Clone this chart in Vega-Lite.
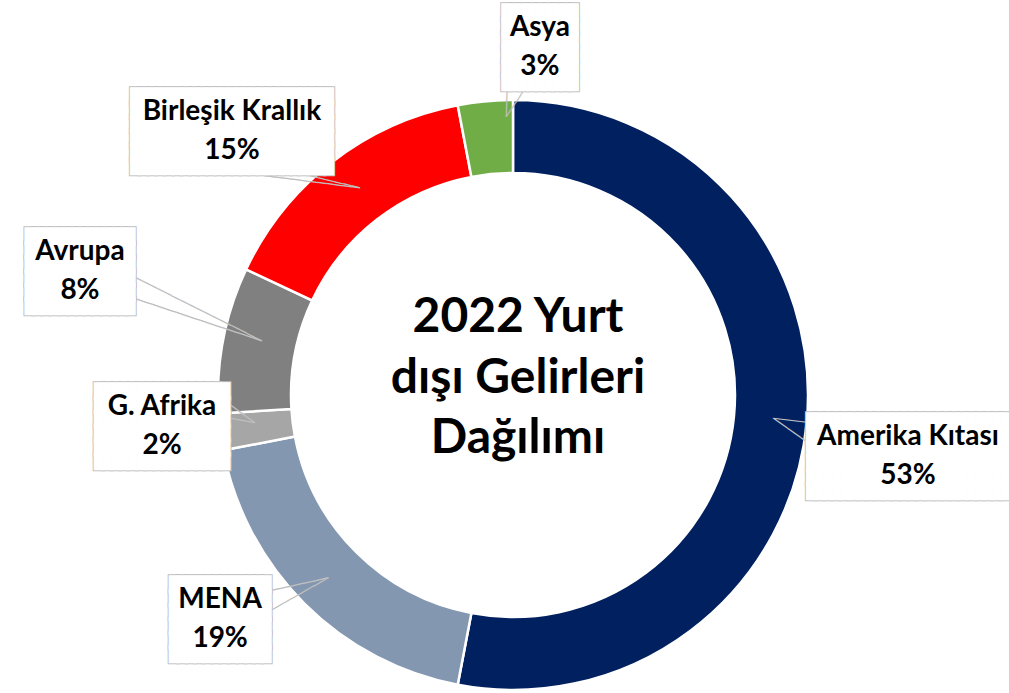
{
  "$schema": "https://vega.github.io/schema/vega-lite/v6.json",
  "width": 992,
  "height": 596,
  "autosize": "none",
  "padding": {"left": 17, "top": 97, "right": 0, "bottom": 0},
  "background": "white",
  "config": {"view": {"stroke": null}},
  "data": {
    "values": [
      {"bolge": "Amerika Kıtası", "pay": 53, "sira": 1, "etiket": ["Amerika Kıtası", "53%"]},
      {"bolge": "MENA", "pay": 19, "sira": 2, "etiket": ["MENA", "19%"]},
      {"bolge": "G. Afrika", "pay": 2, "sira": 3, "etiket": ["G. Afrika", "2%"]},
      {"bolge": "Avrupa", "pay": 8, "sira": 4, "etiket": ["Avrupa", "8%"]},
      {"bolge": "Birleşik Krallık", "pay": 15, "sira": 5, "etiket": ["Birleşik Krallık", "15%"]},
      {"bolge": "Asya", "pay": 3, "sira": 6, "etiket": ["Asya", "3%"]}
    ]
  },
  "transform": [
    {"stack": "pay", "groupby": [], "sort": [{"field": "sira", "order": "ascending"}], "as": ["v0", "v1"]}
  ],
  "layer": [
    {
      "mark": {"type": "arc", "innerRadius": 222, "outerRadius": 295, "stroke": "white", "strokeWidth": 2.5},
      "encoding": {
        "theta": {"field": "v0", "type": "quantitative", "stack": null, "scale": {"domain": [0, 100]}},
        "theta2": {"field": "v1"},
        "color": {
          "field": "bolge", "type": "nominal", "legend": null,
          "scale": {
            "domain": ["Amerika Kıtası", "MENA", "G. Afrika", "Avrupa", "Birleşik Krallık", "Asya"],
            "range": ["#002060", "#8497B0", "#A6A6A6", "#808080", "#FF0000", "#70AD47"]
          }
        }
      }
    },
    {
      "data": {"values": [{}]},
      "mark": {"type": "text", "text": ["2022 Yurt", "dışı Gelirleri", "Dağılımı"], "font": "Lato", "fontSize": 48, "fontWeight": "bold", "lineHeight": 60.5, "dx": 5, "dy": -77, "fill": "black", "baseline": "middle", "align": "center"},
      "encoding": {}
    },
    {
      "transform": [{"filter": "datum.bolge === 'Amerika Kıtası'"}],
      "encoding": {"theta": {"field": "v0", "type": "quantitative", "stack": null}},
      "layer": [
        {"mark": {"type": "text", "radius": 261.1, "thetaOffset": 1.6628, "angle": 6.7, "text": "─────", "font": "DejaVu Sans Mono", "fontSize": 14, "baseline": "middle", "align": "left", "fill": "#BFBFBF"}},
        {"mark": {"type": "text", "radius": 261.1, "thetaOffset": 1.6628, "angle": 35.2, "text": "──────", "font": "DejaVu Sans Mono", "fontSize": 14, "baseline": "middle", "align": "left", "fill": "#BFBFBF"}},
        {"mark": {"type": "text", "radius": 399.5, "thetaOffset": 1.7216, "dy": -33.5, "font": "DejaVu Sans Mono", "fontSize": 14, "lineHeight": 14, "baseline": "middle", "align": "center", "fill": "white", "stroke": "#BFBFBF", "strokeWidth": 3.5, "text": ["████████████████████████", "████████████████████████", "████████████████████████", "████████████████████████", "████████████████████████", "████████████████████████"]}},
        {"mark": {"type": "text", "radius": 399.5, "thetaOffset": 1.7216, "dy": -33.5, "font": "DejaVu Sans Mono", "fontSize": 14, "lineHeight": 14, "baseline": "middle", "align": "center", "fill": "white", "stroke": "white", "strokeWidth": 1.5, "text": ["████████████████████████", "████████████████████████", "████████████████████████", "████████████████████████", "████████████████████████", "████████████████████████"]}},
        {"mark": {"type": "text", "radius": 399.5, "thetaOffset": 1.7216, "dy": -18, "font": "Lato", "fontSize": 28, "fontWeight": "bold", "lineHeight": 39, "baseline": "middle", "align": "center", "fill": "black"}, "encoding": {"text": {"field": "etiket"}}}
      ]
    },
    {
      "transform": [{"filter": "datum.bolge === 'MENA'"}],
      "encoding": {"theta": {"field": "v0", "type": "quantitative", "stack": null}},
      "layer": [
        {"mark": {"type": "text", "radius": 259.5, "thetaOffset": 0.6051, "angle": 167.4, "text": "────────", "font": "DejaVu Sans Mono", "fontSize": 14, "baseline": "middle", "align": "left", "fill": "#BFBFBF"}},
        {"mark": {"type": "text", "radius": 259.5, "thetaOffset": 0.6051, "angle": 150.4, "text": "─────────", "font": "DejaVu Sans Mono", "fontSize": 14, "baseline": "middle", "align": "left", "fill": "#BFBFBF"}},
        {"mark": {"type": "text", "radius": 368.2, "thetaOffset": 0.7313, "dy": -33.5, "font": "DejaVu Sans Mono", "fontSize": 14, "lineHeight": 14, "baseline": "middle", "align": "center", "fill": "white", "stroke": "#BFBFBF", "strokeWidth": 3.5, "text": ["████████████", "████████████", "████████████", "████████████", "████████████", "████████████"]}},
        {"mark": {"type": "text", "radius": 368.2, "thetaOffset": 0.7313, "dy": -33.5, "font": "DejaVu Sans Mono", "fontSize": 14, "lineHeight": 14, "baseline": "middle", "align": "center", "fill": "white", "stroke": "white", "strokeWidth": 1.5, "text": ["████████████", "████████████", "████████████", "████████████", "████████████", "████████████"]}},
        {"mark": {"type": "text", "radius": 368.2, "thetaOffset": 0.7313, "dy": -18, "font": "Lato", "fontSize": 28, "fontWeight": "bold", "lineHeight": 39, "baseline": "middle", "align": "center", "fill": "black"}, "encoding": {"text": {"field": "etiket"}}}
      ]
    },
    {
      "transform": [{"filter": "datum.bolge === 'G. Afrika'"}],
      "encoding": {"theta": {"field": "v0", "type": "quantitative", "stack": null}},
      "layer": [
        {"mark": {"type": "text", "radius": 259.4, "thetaOffset": 0.0843, "angle": 216.5, "text": "─────", "font": "DejaVu Sans Mono", "fontSize": 14, "baseline": "middle", "align": "left", "fill": "#BFBFBF"}},
        {"mark": {"type": "text", "radius": 259.4, "thetaOffset": 0.0843, "angle": 190.5, "text": "────", "font": "DejaVu Sans Mono", "fontSize": 14, "baseline": "middle", "align": "left", "fill": "#BFBFBF"}},
        {"mark": {"type": "text", "radius": 352.3, "thetaOffset": 0.103, "dy": -33.5, "font": "DejaVu Sans Mono", "fontSize": 14, "lineHeight": 14, "baseline": "middle", "align": "center", "fill": "white", "stroke": "#BFBFBF", "strokeWidth": 3.5, "text": ["████████████████", "████████████████", "████████████████", "████████████████", "████████████████", "████████████████"]}},
        {"mark": {"type": "text", "radius": 352.3, "thetaOffset": 0.103, "dy": -33.5, "font": "DejaVu Sans Mono", "fontSize": 14, "lineHeight": 14, "baseline": "middle", "align": "center", "fill": "white", "stroke": "white", "strokeWidth": 1.5, "text": ["████████████████", "████████████████", "████████████████", "████████████████", "████████████████", "████████████████"]}},
        {"mark": {"type": "text", "radius": 352.3, "thetaOffset": 0.103, "dy": -18, "font": "Lato", "fontSize": 28, "fontWeight": "bold", "lineHeight": 39, "baseline": "middle", "align": "center", "fill": "black"}, "encoding": {"text": {"field": "etiket"}}}
      ]
    },
    {
      "transform": [{"filter": "datum.bolge === 'Avrupa'"}],
      "encoding": {"theta": {"field": "v0", "type": "quantitative", "stack": null}},
      "layer": [
        {"mark": {"type": "text", "radius": 257, "thetaOffset": 0.2786, "angle": 206.6, "text": "──────────────────", "font": "DejaVu Sans Mono", "fontSize": 14, "baseline": "middle", "align": "left", "fill": "#BFBFBF"}},
        {"mark": {"type": "text", "radius": 257, "thetaOffset": 0.2786, "angle": 198.4, "text": "─────────────────", "font": "DejaVu Sans Mono", "fontSize": 14, "baseline": "middle", "align": "left", "fill": "#BFBFBF"}},
        {"mark": {"type": "text", "radius": 450.7, "thetaOffset": 0.3438, "dy": -33.5, "font": "DejaVu Sans Mono", "fontSize": 14, "lineHeight": 14, "baseline": "middle", "align": "center", "fill": "white", "stroke": "#BFBFBF", "strokeWidth": 3.5, "text": ["█████████████", "█████████████", "█████████████", "█████████████", "█████████████", "█████████████"]}},
        {"mark": {"type": "text", "radius": 450.7, "thetaOffset": 0.3438, "dy": -33.5, "font": "DejaVu Sans Mono", "fontSize": 14, "lineHeight": 14, "baseline": "middle", "align": "center", "fill": "white", "stroke": "white", "strokeWidth": 1.5, "text": ["█████████████", "█████████████", "█████████████", "█████████████", "█████████████", "█████████████"]}},
        {"mark": {"type": "text", "radius": 450.7, "thetaOffset": 0.3438, "dy": -18, "font": "Lato", "fontSize": 28, "fontWeight": "bold", "lineHeight": 39, "baseline": "middle", "align": "center", "fill": "black"}, "encoding": {"text": {"field": "etiket"}}}
      ]
    },
    {
      "transform": [{"filter": "datum.bolge === 'Birleşik Krallık'"}],
      "encoding": {"theta": {"field": "v0", "type": "quantitative", "stack": null}},
      "layer": [
        {"mark": {"type": "text", "radius": 258.2, "thetaOffset": 0.4969, "angle": 187.25, "text": "──────────────", "font": "DejaVu Sans Mono", "fontSize": 14, "baseline": "middle", "align": "left", "fill": "#BFBFBF"}},
        {"mark": {"type": "text", "radius": 258.2, "thetaOffset": 0.4969, "angle": 193.6, "text": "────────", "font": "DejaVu Sans Mono", "fontSize": 14, "baseline": "middle", "align": "left", "fill": "#BFBFBF"}},
        {"mark": {"type": "text", "radius": 386.2, "thetaOffset": 0.3159, "dy": -33.5, "font": "DejaVu Sans Mono", "fontSize": 14, "lineHeight": 14, "baseline": "middle", "align": "center", "fill": "white", "stroke": "#BFBFBF", "strokeWidth": 3.5, "text": ["████████████████████████", "████████████████████████", "████████████████████████", "████████████████████████", "████████████████████████", "████████████████████████"]}},
        {"mark": {"type": "text", "radius": 386.2, "thetaOffset": 0.3159, "dy": -33.5, "font": "DejaVu Sans Mono", "fontSize": 14, "lineHeight": 14, "baseline": "middle", "align": "center", "fill": "white", "stroke": "white", "strokeWidth": 1.5, "text": ["████████████████████████", "████████████████████████", "████████████████████████", "████████████████████████", "████████████████████████", "████████████████████████"]}},
        {"mark": {"type": "text", "radius": 386.2, "thetaOffset": 0.3159, "dy": -18, "font": "Lato", "fontSize": 28, "fontWeight": "bold", "lineHeight": 39, "baseline": "middle", "align": "center", "fill": "black"}, "encoding": {"text": {"field": "etiket"}}}
      ]
    },
    {
      "transform": [{"filter": "datum.bolge === 'Asya'"}],
      "encoding": {"theta": {"field": "v0", "type": "quantitative", "stack": null}},
      "layer": [
        {"mark": {"type": "text", "radius": 278.1, "thetaOffset": 0.1669, "angle": 272.1, "text": "─────", "font": "DejaVu Sans Mono", "fontSize": 14, "baseline": "middle", "align": "left", "fill": "#BFBFBF"}},
        {"mark": {"type": "text", "radius": 278.1, "thetaOffset": 0.1669, "angle": 303.7, "text": "─────", "font": "DejaVu Sans Mono", "fontSize": 14, "baseline": "middle", "align": "left", "fill": "#BFBFBF"}},
        {"mark": {"type": "text", "radius": 350, "thetaOffset": 0.2656, "dy": -33.5, "font": "DejaVu Sans Mono", "fontSize": 14, "lineHeight": 14, "baseline": "middle", "align": "center", "fill": "white", "stroke": "#BFBFBF", "strokeWidth": 3.5, "text": ["█████████", "█████████", "█████████", "█████████", "█████████", "█████████"]}},
        {"mark": {"type": "text", "radius": 350, "thetaOffset": 0.2656, "dy": -33.5, "font": "DejaVu Sans Mono", "fontSize": 14, "lineHeight": 14, "baseline": "middle", "align": "center", "fill": "white", "stroke": "white", "strokeWidth": 1.5, "text": ["█████████", "█████████", "█████████", "█████████", "█████████", "█████████"]}},
        {"mark": {"type": "text", "radius": 350, "thetaOffset": 0.2656, "dy": -18, "font": "Lato", "fontSize": 28, "fontWeight": "bold", "lineHeight": 39, "baseline": "middle", "align": "center", "fill": "black"}, "encoding": {"text": {"field": "etiket"}}}
      ]
    }
  ]
}
